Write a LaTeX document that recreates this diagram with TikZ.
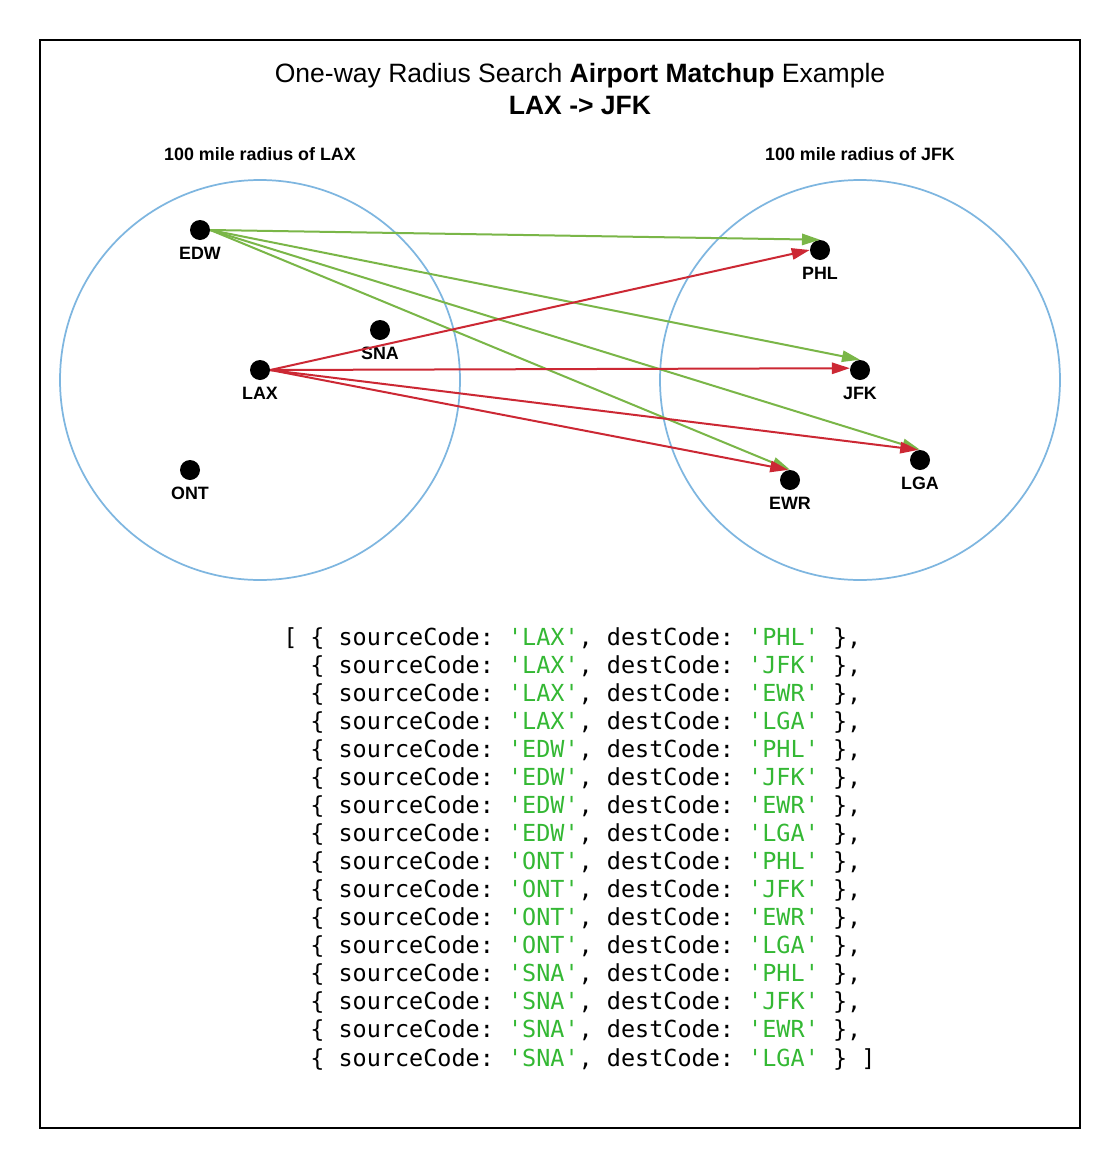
\documentclass[tikz,border=0pt]{standalone}
\usepackage{fontspec}
\setmainfont{Liberation Sans}
\setmonofont{DejaVu Sans Mono}
\usetikzlibrary{arrows.meta}
\definecolor{circblue}{RGB}{126,182,224}
\definecolor{arrgreen}{RGB}{122,182,72}
\definecolor{arrred}{RGB}{204,40,52}
\definecolor{codegreen}{RGB}{52,184,52}
\begin{document}
\begin{tikzpicture}[x=0.75pt,y=-0.75pt,
  dot/.style={circle,fill=black,minimum size=15pt,inner sep=0pt},
  lbl/.style={font=\fontsize{13.4}{15}\selectfont\bfseries,inner sep=0pt,anchor=base},
  zone/.style={draw=circblue,line width=1.3pt},
  garrow/.style={draw=arrgreen,line width=1.5pt,-{Triangle[length=13.5pt,width=8.5pt]}},
  rarrow/.style={draw=arrred,line width=1.5pt,-{Triangle[length=13.5pt,width=8.5pt]}},
  code/.style={anchor=base west,inner sep=0pt,font=\ttfamily\fontsize{17.6}{20}\selectfont},
  titlefont/.style={font=\fontsize{19.9}{24}\selectfont,inner sep=0pt,anchor=base}
]
\fill[white] (0,0) rectangle (1120,1160);
\useasboundingbox (0,0) rectangle (1120,1160);
\draw[line width=1.1pt] (40,40) rectangle (1080,1128);

% title
\node[titlefont] (title1) at (580,82) {One-way Radius Search \textbf{Airport Matchup} Example};
\node[titlefont] (title2) at (580,114.5) {\textbf{LAX -> JFK}};

% zones
\draw[zone] (260,380) circle[radius=150pt];
\draw[zone] (860,380) circle[radius=150pt];
\node[lbl] (zoneL) at (260,160.5) {100 mile radius of LAX};
\node[lbl] (zoneR) at (860,160.5) {100 mile radius of JFK};

% airports
\node[dot] (EDW) at (200,230) {};
\node[dot] (SNA) at (380,330) {};
\node[dot] (LAX) at (260,370) {};
\node[dot] (ONT) at (190,470) {};
\node[dot] (PHL) at (820,250) {};
\node[dot] (JFK) at (860,370) {};
\node[dot] (EWR) at (790,480) {};
\node[dot] (LGA) at (920,460) {};
\node[lbl] (lEDW) at (200,259) {EDW};
\node[lbl] (lSNA) at (380,359) {SNA};
\node[lbl] (lLAX) at (260,399) {LAX};
\node[lbl] (lONT) at (190,499) {ONT};
\node[lbl] (lPHL) at (820,279) {PHL};
\node[lbl] (lJFK) at (860,399) {JFK};
\node[lbl] (lEWR) at (790,509) {EWR};
\node[lbl] (lLGA) at (920,489) {LGA};

% connectors
\draw[garrow] (EDW.east) -- (PHL.north);
\draw[garrow] (EDW.east) -- (JFK.north);
\draw[garrow] (EDW.east) -- (LGA.north);
\draw[garrow] (EDW.east) -- (EWR.north);
\draw[rarrow] (LAX.east) -- (PHL.west);
\draw[rarrow] (LAX.east) -- (JFK.170);
\draw[rarrow] (LAX.east) -- (EWR.100);
\draw[rarrow] (LAX.east) -- (LGA.100);

% code
\node[code] (bracket) at (283,645) {[};
\foreach \src/\dst [count=\i from 0] in {LAX/PHL,LAX/JFK,LAX/EWR,LAX/LGA,EDW/PHL,EDW/JFK,EDW/EWR,EDW/LGA,ONT/PHL,ONT/JFK,ONT/EWR,ONT/LGA,SNA/PHL,SNA/JFK,SNA/EWR,SNA/LGA}{
  \node[code] (line\i) at (310,{645+28.07*\i}) {\{ sourceCode: \textcolor{codegreen}{'\src'}, destCode: \textcolor{codegreen}{'\dst'} \}\ifnum\i<15 ,\else\ ]\fi};
}
\end{tikzpicture}
\end{document}
